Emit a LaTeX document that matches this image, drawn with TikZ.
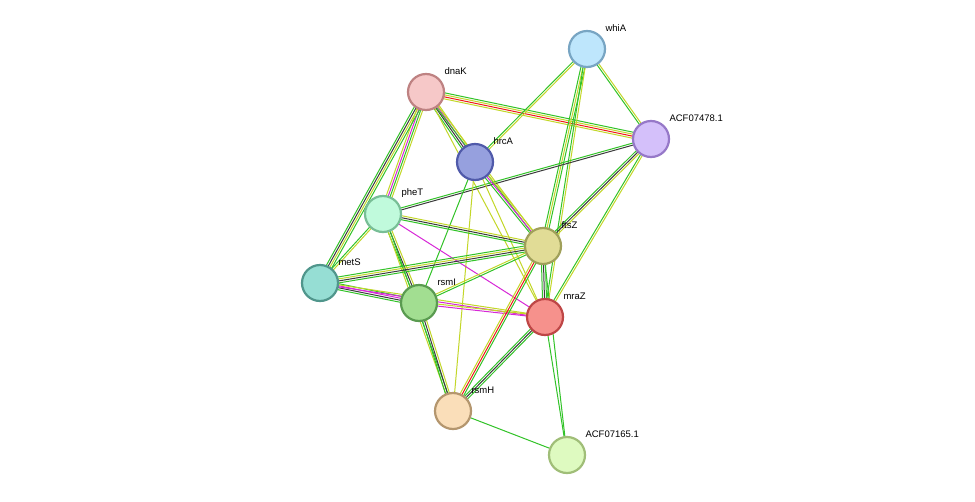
\documentclass[tikz,border=0pt]{standalone}
\usepackage{fontspec}
\setmainfont{Liberation Sans}
\usetikzlibrary{calc}
\definecolor{cg}{RGB}{50,195,40}
\definecolor{cy}{RGB}{195,215,40}
\definecolor{ck}{RGB}{60,60,60}
\definecolor{cm}{RGB}{215,40,215}
\definecolor{cr}{RGB}{240,25,25}
\definecolor{fwhiA}{RGB}{190,230,252}\definecolor{dwhiA}{RGB}{120,165,195}
\definecolor{fdnaK}{RGB}{246,200,200}\definecolor{ddnaK}{RGB}{190,130,130}
\definecolor{facf8}{RGB}{212,192,250}\definecolor{dacf8}{RGB}{150,120,200}
\definecolor{fhrcA}{RGB}{150,160,222}\definecolor{dhrcA}{RGB}{80,90,170}
\definecolor{fpheT}{RGB}{192,250,220}\definecolor{dpheT}{RGB}{120,190,150}
\definecolor{fftsZ}{RGB}{225,220,150}\definecolor{dftsZ}{RGB}{160,160,90}
\definecolor{fmetS}{RGB}{150,222,212}\definecolor{dmetS}{RGB}{80,150,140}
\definecolor{frsmI}{RGB}{162,222,145}\definecolor{drsmI}{RGB}{90,155,80}
\definecolor{fmraZ}{RGB}{246,145,140}\definecolor{dmraZ}{RGB}{190,70,70}
\definecolor{frsmH}{RGB}{250,222,185}\definecolor{drsmH}{RGB}{180,150,110}
\definecolor{facf5}{RGB}{222,250,192}\definecolor{dacf5}{RGB}{160,190,120}
\newcommand\edg[4]{\foreach \cc [count=\i] in {#4}{\pgfmathsetmacro\off{(\i-(#3+1)/2)*2}
 \draw[draw=c\cc,line width=1pt] ($(#1.center)!\off pt!90:(#2.center)$) -- ($(#2.center)!\off pt!-90:(#1.center)$);}}
\tikzset{prot/.style={circle,minimum size=36pt,inner sep=0pt,line width=2.2pt,fill=f#1,draw=d#1},
 lab/.style={font=\fontsize{9.5}{11}\selectfont,anchor=west}}
\newcommand\prt[2]{\node[prot=#1] (n#1) at (#1) {};
 \node[lab] (l#1) at ($(#1)+(15,-21)$) {#2};}
\begin{document}
\begin{tikzpicture}[x=1pt,y=-1pt]
\useasboundingbox (0,0) rectangle (975,501);
\fill[white] (0,0) rectangle (975,501);
\coordinate (whiA) at (587,49);
\coordinate (dnaK) at (426,92);
\coordinate (acf8) at (651,139);
\coordinate (hrcA) at (475,162);
\coordinate (pheT) at (383,214);
\coordinate (ftsZ) at (543,246);
\coordinate (metS) at (320,283);
\coordinate (rsmI) at (419,303);
\coordinate (mraZ) at (545,317);
\coordinate (rsmH) at (453,411);
\coordinate (acf5) at (567,455);
\edg{dnaK}{acf8}{4}{y,r,y,g}
\edg{dnaK}{hrcA}{4}{g,k,m,y}
\edg{dnaK}{pheT}{4}{y,m,g,y}
\edg{dnaK}{metS}{4}{g,k,y,g}
\edg{dnaK}{ftsZ}{2}{g,y}
\edg{dnaK}{mraZ}{1}{y}
\edg{whiA}{hrcA}{2}{g,y}
\edg{whiA}{ftsZ}{3}{g,y,g}
\edg{whiA}{mraZ}{2}{g,y}
\edg{whiA}{acf8}{2}{g,y}
\edg{acf8}{pheT}{2}{g,k}
\edg{acf8}{ftsZ}{3}{g,k,y}
\edg{acf8}{mraZ}{2}{g,y}
\edg{hrcA}{ftsZ}{3}{g,m,y}
\edg{hrcA}{rsmI}{1}{g}
\edg{hrcA}{mraZ}{1}{y}
\edg{hrcA}{rsmH}{1}{y}
\edg{pheT}{ftsZ}{3}{g,k,y}
\edg{pheT}{metS}{2}{g,y}
\edg{pheT}{rsmI}{3}{g,k,y}
\edg{pheT}{mraZ}{1}{m}
\edg{pheT}{rsmH}{2}{y,g}
\edg{metS}{ftsZ}{4}{g,k,y,g}
\edg{metS}{rsmI}{4}{g,k,m,g}
\edg{metS}{mraZ}{2}{m,y}
\edg{rsmI}{ftsZ}{2}{g,y}
\edg{rsmI}{mraZ}{2}{m,y}
\edg{rsmI}{rsmH}{3}{g,k,y}
\edg{ftsZ}{mraZ}{3}{g,k,g}
\edg{ftsZ}{rsmH}{3}{y,r,g}
\edg{mraZ}{rsmH}{3}{g,k,g}
\edg{mraZ}{acf5}{1}{g}
\edg{ftsZ}{acf5}{1}{g}
\edg{rsmH}{acf5}{1}{g}
\prt{whiA}{whiA}
\prt{dnaK}{dnaK}
\prt{acf8}{ACF07478.1}
\prt{hrcA}{hrcA}
\prt{pheT}{pheT}
\prt{ftsZ}{ftsZ}
\prt{metS}{metS}
\prt{rsmI}{rsmI}
\prt{mraZ}{mraZ}
\prt{rsmH}{rsmH}
\prt{acf5}{ACF07165.1}
\end{tikzpicture}
\end{document}
